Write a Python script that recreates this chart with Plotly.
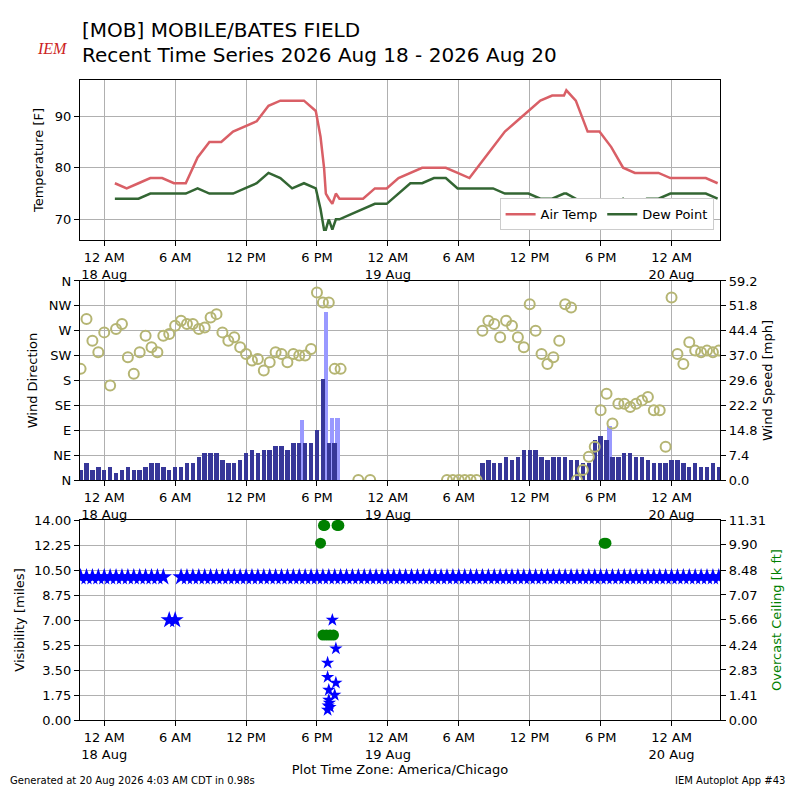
import pandas as pd
import plotly.graph_objects as go

base = pd.Timestamp("2026-08-18 00:00")

# hourly obs (hours after 18 Aug 00:00)
temp_hours = [0.9, 1.9, 2.9, 3.9, 4.9, 5.9, 6.9, 7.9, 8.9, 9.9, 10.9, 11.9, 12.9, 13.9, 14.9, 15.9,
              16.9, 17.9, 18.3, 18.6, 18.75, 19.0, 19.3, 19.6, 19.9, 20.9, 21.9, 22.9, 23.9, 24.9,
              25.9, 26.9, 27.9, 28.9, 29.9, 30.9, 31.9, 32.9, 33.9, 34.9, 35.9, 36.9, 37.9, 38.9,
              39.1, 39.9, 40.9, 41.9, 42.9, 43.9, 44.9, 45.9, 46.9, 47.9, 48.9, 49.9, 50.9, 51.9]
air_temp = [77, 76, 77, 78, 78, 77, 77, 82, 85, 85, 87, 88, 89, 92, 93, 93,
            93, 91, 86, 80, 75, 74, 73, 75, 74, 74, 74, 76, 76, 78,
            79, 80, 80, 80, 79, 78, 81, 84, 87, 89, 91, 93, 94, 94,
            95, 93, 87, 87, 84, 80, 79, 79, 79, 78, 78, 78, 78, 77]
dew_point = [74, 74, 74, 75, 75, 75, 75, 76, 75, 75, 75, 76, 77, 79, 78, 76,
             77, 76, 72, 68, 68, 70, 68, 70, 70, 71, 72, 73, 73, 75,
             77, 77, 78, 78, 76, 76, 76, 76, 75, 75, 75, 74, 74, 75,
             75, 74, 72, 72, 73, 74, 72, 74, 74, 75, 75, 75, 75, 74]

# half-hourly wind obs from -2.0 h to 52.0 h
wind_times = pd.date_range(base - pd.Timedelta(hours=2), base + pd.Timedelta(hours=52), freq="30min")
N = None
wind_dir = [201, 291, 252, 231, 267, 171, 273, 282, 222, 192, 231, 261, 240, 231, 261, 264,
            279, 288, 282, 282, 273, 276, 294, 300, 267, 252, 258, 240, 228, 216, 219, 198,
            213, 231, 228, 213, 228, 225, 225, 237, 339, 321, 321, 201, 201,
            N, N, 0, N, 0, N, N, N, N, N, N, N, N, N, N, N, N,
            0, 0, 0, 0, 0, 0,
            270, 288, 282, 258, 288, 279, 258, 240, 318, 270, 228, 210, 222, 252, 318, 312,
            0, 18, 42, 60, 126, 156, 102, 138, 138, 132, 138, 144, 150, 126, 126, 60,
            330, 228, 210, 249, 234, 231, 234, 231, 234]
wind_speed = [3, 5, 3, 4, 3, 4, 2, 3, 4, 3, 3, 4, 5, 5, 4, 3, 4, 4, 5, 5,
              7, 8, 8, 8, 6, 5, 5, 6, 8, 9, 8, 9, 9, 10, 10, 9, 11, 11, 11, 11,
              15, 30, 11, 11,
              0, 0, 0, 0, 0, 0, 0, 0, 0, 0, 0, 0, 0, 0, 0, 0, 0, 0, 0, 0, 0, 0, 0, 0,
              5, 6, 5, 5, 7, 6, 7, 9, 9, 9, 7, 6, 7, 7, 7, 6, 6, 5, 5, 12, 13, 12,
              7, 7, 8, 8, 7, 7, 6, 5, 5, 5, 6, 6, 5, 4, 5, 4, 4, 5, 4]
gust_hours = [16.75, 18.75, 19.25, 19.75, 42.75]
gust_speed = [18, 50, 18.5, 18.5, 16]

# visibility, half hourly, plus storm obs
vis = [10.0] * 15 + [7.0, 7.0] + [10.0] * 92
storm_vis_hours = [18.9, 18.95, 19.0, 19.05, 19.1, 19.5, 19.6, 18.9, 19.0, 19.6, 18.9, 19.3]
storm_vis = [0.7, 1.0, 1.4, 1.2, 0.9, 1.75, 2.6, 3.0, 2.1, 5.0, 4.0, 7.0]
ceil_hours = [18.3, 18.55, 18.65, 18.5, 18.8, 19.1, 19.4, 19.7, 19.85, 42.3, 42.45]
ceiling = [10.0, 11.0, 11.0, 4.8, 4.8, 4.8, 4.8, 11.0, 11.0, 10.0, 10.0]


def t(hours):
    return [base + pd.Timedelta(hours=h) for h in hours]


fig = go.Figure()
fig.add_trace(go.Scatter(x=t(temp_hours), y=air_temp, name="Air Temp", mode="lines",
                         line=dict(color="#d95f66", width=2.5), xaxis="x", yaxis="y"))
fig.add_trace(go.Scatter(x=t(temp_hours), y=dew_point, name="Dew Point", mode="lines",
                         line=dict(color="#336633", width=2.5), xaxis="x", yaxis="y"))

bw = 30 * 60 * 1000 * 0.75
fig.add_trace(go.Bar(x=t(gust_hours), y=gust_speed, width=bw, marker=dict(color="#9999ff", line_width=0),
                     showlegend=False, xaxis="x2", yaxis="y2"))
fig.add_trace(go.Bar(x=wind_times, y=wind_speed, width=bw, marker=dict(color="#373799", line_width=0),
                     showlegend=False, xaxis="x2", yaxis="y2"))
fig.add_trace(go.Scatter(x=wind_times, y=wind_dir, mode="markers", showlegend=False,
                         marker=dict(symbol="circle-open", size=10, color="#b5b573", line=dict(width=2)),
                         xaxis="x2", yaxis="y3"))

fig.add_trace(go.Scatter(x=wind_times, y=vis, mode="markers", showlegend=False,
                         marker=dict(symbol="star", size=13, color="blue"), xaxis="x3", yaxis="y4"))
fig.add_trace(go.Scatter(x=t(storm_vis_hours), y=storm_vis, mode="markers", showlegend=False,
                         marker=dict(symbol="star", size=10, color="blue"), xaxis="x3", yaxis="y4"))
fig.add_trace(go.Scatter(x=t(ceil_hours), y=ceiling, mode="markers", showlegend=False,
                         marker=dict(size=11, color="green"), xaxis="x3", yaxis="y5"))

x0 = base - pd.Timedelta(hours=2.05)
x1 = base + pd.Timedelta(hours=52.1)
tickvals = [base + pd.Timedelta(hours=h) for h in range(0, 54, 6)]
ticktext = []
for tv in tickvals:
    if tv.hour == 0:
        ticktext.append("12 AM<br>" + tv.strftime("%d %b"))
    elif tv.hour == 12:
        ticktext.append("12 PM")
    else:
        ticktext.append(f"{tv.hour % 12} {'AM' if tv.hour < 12 else 'PM'}")

axcommon = dict(showline=True, linecolor="black", linewidth=1.2, mirror=True, ticks="outside",
                tickcolor="black", showgrid=True, gridcolor="#b0b0b0", zeroline=False, automargin=False,
                tickfont=dict(size=13, color="black"))
xcommon = dict(axcommon, type="date", range=[x0, x1], tickvals=tickvals, ticktext=ticktext)

speed_ticks = [i * 7.4 for i in range(9)]
ceil_ticks = [0, 1.41, 2.83, 4.24, 5.66, 7.07, 8.48, 9.90, 11.31]

fig.update_layout(
    width=800, height=800, margin=dict(l=72, r=88, t=72, b=88, autoexpand=False),
    paper_bgcolor="white", plot_bgcolor="white", bargap=0, barmode="overlay",
    font=dict(family="DejaVu Sans", color="black"),
    xaxis=dict(xcommon, anchor="y", domain=[0, 1]),
    xaxis2=dict(xcommon, anchor="y2", domain=[0, 1]),
    xaxis3=dict(xcommon, anchor="y4", domain=[0, 1],
                title=dict(text="Plot Time Zone: America/Chicago", font=dict(size=13), standoff=4)),
    yaxis=dict(axcommon, domain=[0.75, 1], range=[66, 97], tickvals=[70, 80, 90],
               title=dict(text="Temperature [F]", font=dict(size=13), standoff=8)),
    yaxis2=dict(axcommon, domain=[0.375, 0.686], anchor="x2", side="right", range=[0, 59.2],
                tickvals=speed_ticks, ticktext=[f"{v:.1f}" for v in speed_ticks],
                title=dict(text="Wind Speed [mph]", font=dict(size=13), standoff=6)),
    yaxis3=dict(axcommon, overlaying="y2", anchor="x2", side="left", range=[0, 360],
                tickvals=list(range(0, 361, 45)), ticktext=["N", "NE", "E", "SE", "S", "SW", "W", "NW", "N"],
                showgrid=False, title=dict(text="Wind Direction", font=dict(size=13), standoff=8)),
    yaxis4=dict(axcommon, domain=[0, 0.3125], anchor="x3", range=[0, 14],
                tickvals=[i * 1.75 for i in range(9)], ticktext=[f"{i * 1.75:.2f}" for i in range(9)],
                title=dict(text="Visibility [miles]", font=dict(size=13), standoff=6)),
    yaxis5=dict(axcommon, overlaying="y4", anchor="x3", side="right", range=[0, 11.31],
                tickvals=ceil_ticks, ticktext=[f"{v:.2f}" for v in ceil_ticks], showgrid=False,
                title=dict(text="Overcast Ceiling [k ft]", font=dict(size=13, color="green"), standoff=6)),
    legend=dict(orientation="h", x=0.99, y=0.765, xanchor="right", yanchor="bottom",
                bgcolor="white", bordercolor="#cccccc", borderwidth=1, font=dict(size=13)),
)

fig.add_annotation(text="[MOB] MOBILE/BATES FIELD", x=0, y=1.078, xref="paper", yref="paper",
                   xanchor="left", yanchor="middle", showarrow=False, font=dict(size=20))
fig.add_annotation(text="Recent Time Series 2026 Aug 18 - 2026 Aug 20", x=0, y=1.039, xref="paper",
                   yref="paper", xanchor="left", yanchor="middle", showarrow=False, font=dict(size=20))
fig.add_annotation(text="<i>IEM</i>", x=-0.07, y=1.065, xref="paper", yref="paper", showarrow=False,
                   font=dict(family="Liberation Serif", size=16, color="#cc2222"))
fig.add_annotation(text="Generated at 20 Aug 2026 4:03 AM CDT in 0.98s", x=-0.1125, y=-0.106,
                   xref="paper", yref="paper", xanchor="left", showarrow=False, font=dict(size=10))
fig.add_annotation(text="IEM Autoplot App #43", x=1.105, y=-0.106, xref="paper", yref="paper",
                   xanchor="right", showarrow=False, font=dict(size=10))

fig.write_html("out.html")
